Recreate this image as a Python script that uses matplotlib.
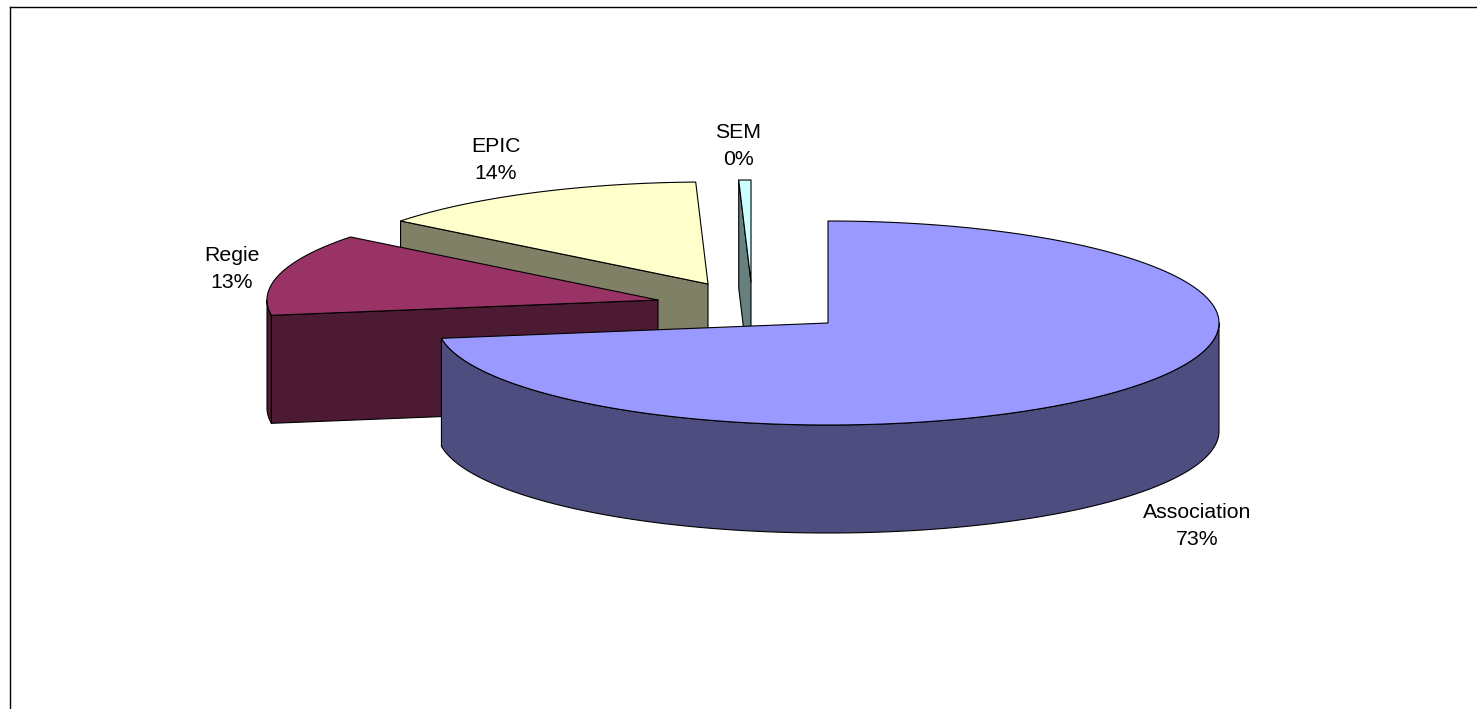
import numpy as np
import matplotlib
matplotlib.use("Agg")
import matplotlib.pyplot as plt
from matplotlib.patches import Polygon

plt.rcParams["font.family"] = ["Liberation Sans", "DejaVu Sans"]

# Shares of each category, in percent
labels = ["Association", "Regie", "EPIC", "SEM"]
values = [72.6, 13.0, 13.9, 0.5]

top_colors = ["#9999FF", "#993366", "#FFFFCC", "#CCFFFF"]
wall_colors = ["#4D4D80", "#4D1A33", "#808066", "#668080"]

# Layout in pixels of the 1477x709 image
apex = [(828, 323), (658, 300), (708, 284), (751, 282)]
label_pos = [(1197, 526), (232, 269), (496, 160), (738, 146)]
RX, RY, DEPTH = 391, 102, 108
EDGE = 0.8


def arc_points(center, a0, a1, dy=0):
    # angles in degrees, clockwise from the top of the ellipse
    n = max(2, int(abs(a1 - a0) * 2))
    t = np.radians(np.linspace(a0, a1, n))
    x = center[0] + RX * np.sin(t)
    y = center[1] - RY * np.cos(t) + dy
    return np.column_stack([x, y])


def add_poly(ax, pts, color, z):
    ax.add_patch(Polygon(pts, closed=True, facecolor=color, edgecolor="black",
                         linewidth=EDGE, joinstyle="round", zorder=z))


fig = plt.figure(figsize=(14.77, 7.09), dpi=100)
ax = fig.add_axes([0, 0, 1, 1])
ax.set_xlim(0, 1477)
ax.set_ylim(709, 0)
ax.axis("off")

# Chart frame: only top and left edges fall inside the image
ax.plot([10.3, 1477], [6.5, 6.5], color="black", linewidth=1.0)
ax.plot([10.3, 10.3], [6.5, 709], color="black", linewidth=1.0)

stops = np.cumsum([0] + values) * 3.6
starts, ends = stops[:-1], stops[1:]

# Back slices first, the big front slice last
for i in [3, 2, 1, 0]:
    c = apex[i]
    a0, a1 = starts[i], ends[i]
    z = 10 - i

    # Outer wall, only the part that faces the viewer (90 to 270 degrees)
    w0, w1 = max(a0, 90), min(a1, 270)
    if w1 > w0:
        top_edge = arc_points(c, w0, w1)
        bottom_edge = arc_points(c, w1, w0, DEPTH)
        add_poly(ax, np.vstack([top_edge, bottom_edge]), wall_colors[i], z)

    # Radial wall on the start side of the slices in the left half
    if a0 > 180:
        p = arc_points(c, a0, a0 + 0.01)[0]
        add_poly(ax, [c, p, (p[0], p[1] + DEPTH), (c[0], c[1] + DEPTH)],
                 wall_colors[i], z)

    # Top face
    add_poly(ax, np.vstack([[c], arc_points(c, a0, a1)]), top_colors[i], z)

for name, val, pos in zip(labels, values, label_pos):
    ax.text(pos[0], pos[1], f"{name}\n{val:.0f}%", ha="center", va="center",
            fontsize=15.3, color="black", linespacing=1.5, zorder=20)

fig.savefig("out.png", dpi=100)
